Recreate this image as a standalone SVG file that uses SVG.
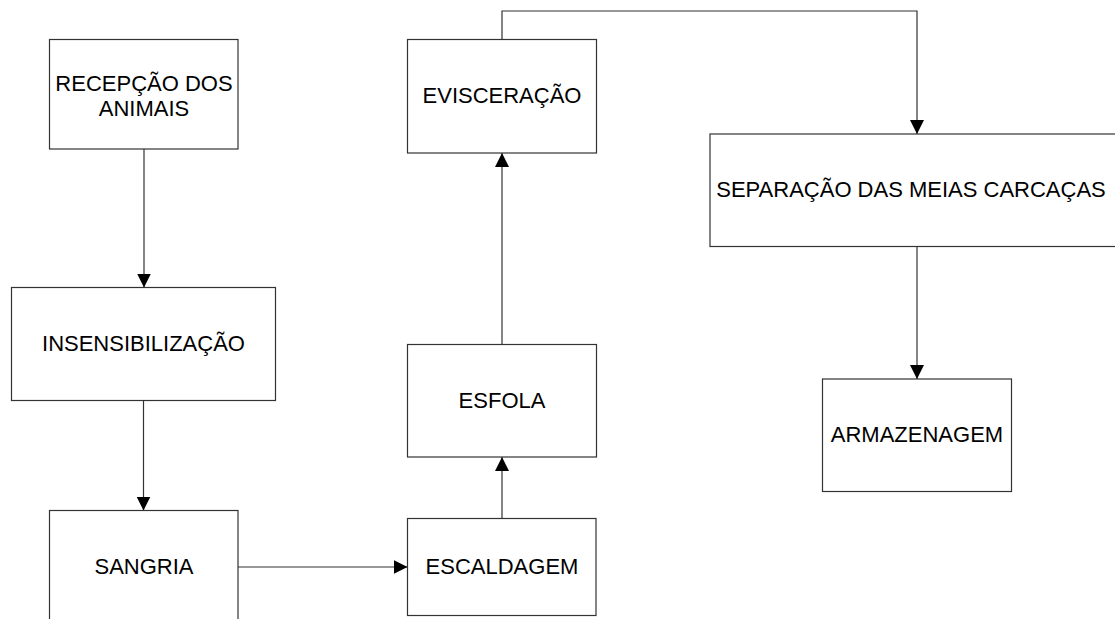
<svg xmlns="http://www.w3.org/2000/svg" width="1115" height="619" viewBox="0 0 1115 619">
<style>
.box{fill:#fff;stroke:#333;stroke-width:1.2}
.lbl{font-family:"Liberation Sans",Arial,sans-serif;font-size:22px;fill:#000;text-anchor:middle}
.con{fill:none;stroke:#333;stroke-width:1.2}
</style>
<defs>
<marker id="arr" markerUnits="userSpaceOnUse" markerWidth="15" markerHeight="15" refX="14" refY="7" orient="auto">
<path d="M0,0 L14,7 L0,14 Z" fill="#000"/>
</marker>
</defs>
<rect width="1115" height="619" fill="#fff"/>
<g id="connectors">
<path class="con" d="M144,149 V287.5" marker-end="url(#arr)"/>
<path class="con" d="M143.5,400.5 V510.5" marker-end="url(#arr)"/>
<path class="con" d="M238,567 H407.5" marker-end="url(#arr)"/>
<path class="con" d="M502,518.5 V457" marker-end="url(#arr)"/>
<path class="con" d="M502,344.5 V153" marker-end="url(#arr)"/>
<path class="con" d="M502,39.5 V11 H917 V134" marker-end="url(#arr)"/>
<path class="con" d="M917,246.5 V379" marker-end="url(#arr)"/>
</g>
<g id="recepcao">
<rect class="box" x="49.5" y="39.5" width="188.5" height="109.5"/>
<text class="lbl" x="144" y="91">RECEPÇÃO DOS</text>
<text class="lbl" x="144" y="116">ANIMAIS</text>
</g>
<g id="insensibilizacao">
<rect class="box" x="11.5" y="287.5" width="264" height="113"/>
<text class="lbl" x="143.5" y="351">INSENSIBILIZAÇÃO</text>
</g>
<g id="sangria">
<rect class="box" x="49.5" y="510.5" width="188.5" height="113"/>
<text class="lbl" x="144" y="574">SANGRIA</text>
</g>
<g id="escaldagem">
<rect class="box" x="407.5" y="518.5" width="188.5" height="97"/>
<text class="lbl" x="502" y="574">ESCALDAGEM</text>
</g>
<g id="esfola">
<rect class="box" x="407.5" y="344.5" width="189" height="112.5"/>
<text class="lbl" x="502" y="408">ESFOLA</text>
</g>
<g id="evisceracao">
<rect class="box" x="407.5" y="39.5" width="189" height="113.5"/>
<text class="lbl" x="502" y="103">EVISCERAÇÃO</text>
</g>
<g id="separacao">
<rect class="box" x="710" y="134" width="414" height="112.5"/>
<text class="lbl" x="911" y="197">SEPARAÇÃO DAS MEIAS CARCAÇAS</text>
</g>
<g id="armazenagem">
<rect class="box" x="822.5" y="379" width="189" height="112.5"/>
<text class="lbl" x="917" y="442">ARMAZENAGEM</text>
</g>
</svg>
